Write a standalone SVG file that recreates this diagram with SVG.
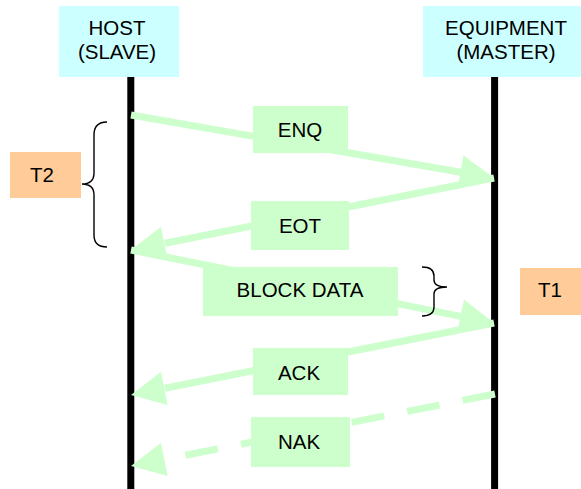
<svg xmlns="http://www.w3.org/2000/svg" width="581" height="489" viewBox="0 0 581 489">
<style>
text{font-family:"Liberation Sans",Arial,sans-serif;font-size:20.5px;fill:#000;text-anchor:middle}
.actor{fill:#CCFFFF}
.msg{fill:#CCFFCC}
.timer{fill:#FFCC99}
.life{stroke:#000;stroke-width:7}
.conn{stroke:#CCFFCC;stroke-width:7;fill:none}
.dash{stroke-dasharray:33 23.5}
.head{fill:#CCFFCC}
.brace{fill:none;stroke:#000;stroke-width:1.4}
</style>
<rect width="581" height="489" fill="#fff"/>
<g id="host">
<rect class="actor" x="59" y="6" width="120" height="71"/>
<text x="117" y="35">HOST</text>
<text x="117" y="59">(SLAVE)</text>
<line class="life" x1="130.8" y1="77" x2="130.8" y2="489"/>
</g>
<g id="equipment">
<rect class="actor" x="423" y="6" width="158" height="71"/>
<text x="506" y="35">EQUIPMENT</text>
<text x="506" y="59">(MASTER)</text>
<line class="life" x1="494.6" y1="77" x2="494.6" y2="489"/>
</g>
<g id="connectors">
<line class="conn" x1="131" y1="115" x2="462" y2="172.5"/>
<polygon class="head" points="494,178 463.4,155.4 457.6,189"/>
<line class="conn" x1="494" y1="178" x2="165" y2="243.2"/>
<polygon class="head" points="131,250 161,226.7 167.6,260.1"/>
<line class="conn" x1="131" y1="250" x2="462" y2="316.6"/>
<polygon class="head" points="494,323 464,299.6 457.3,333"/>
<line class="conn" x1="494" y1="323" x2="165" y2="388.2"/>
<polygon class="head" points="131,395 161,371.7 167.6,405.1"/>
<line class="conn dash" x1="495" y1="394" x2="164.4" y2="459.4"/>
<polygon class="head" points="131,466 161,442.7 167.6,476.1"/>
</g>
<g id="enq">
<rect class="msg" x="253" y="106" width="95" height="47"/>
<text x="300" y="137">ENQ</text>
</g>
<g id="eot">
<rect class="msg" x="251" y="201" width="98" height="49"/>
<text x="300" y="233">EOT</text>
</g>
<g id="block-data">
<rect class="msg" x="203" y="267" width="195" height="49"/>
<text x="300" y="297">BLOCK DATA</text>
</g>
<g id="ack">
<rect class="msg" x="253" y="348" width="95" height="47"/>
<text x="299" y="380">ACK</text>
</g>
<g id="nak">
<rect class="msg" x="251" y="417" width="99" height="50"/>
<text x="299" y="449">NAK</text>
</g>
<g id="t2">
<path class="brace" d="M107,122 Q94,122 94,135 L94,173 Q94,184 82,184 Q94,184 94,195 L94,235 Q94,247 107,247"/>
<rect class="timer" x="10" y="152" width="71" height="46"/>
<text x="42" y="182">T2</text>
</g>
<g id="t1">
<path class="brace" d="M422,267 Q434,267 434,276 L434,280 Q434,287 447,287 Q434,287 434,294 L434,307 Q434,316 422,316"/>
<rect class="timer" x="520" y="268" width="61" height="47"/>
<text x="550" y="297">T1</text>
</g>
</svg>
